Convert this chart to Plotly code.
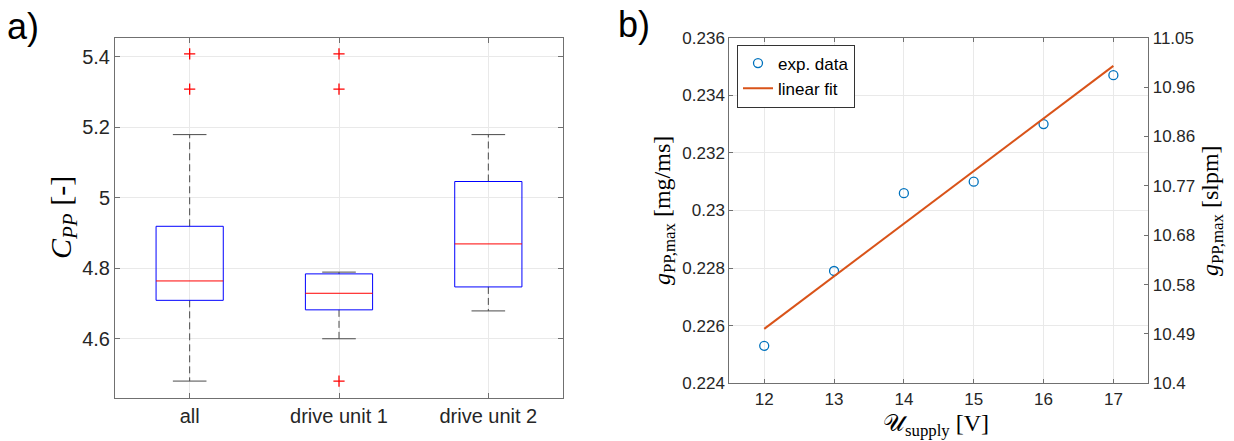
import numpy as np
import plotly.graph_objects as go

# ---------------- data: panel a) box plot statistics ----------------
groups = ["all", "drive unit 1", "drive unit 2"]
q1 = [4.709, 4.682, 4.747]
median = [4.764, 4.729, 4.869]
q3 = [4.919, 4.784, 5.046]
whisker_low = [4.480, 4.600, 4.679]
whisker_high = [5.179, 4.789, 5.179]
outlier_group = [0, 0, 1, 1, 1]
outlier_value = [5.408, 5.308, 5.408, 5.308, 4.480]
cpp_ticks = [4.6, 4.8, 5.0, 5.2, 5.4]

# ---------------- data: panel b) flow vs supply voltage ----------------
voltage = [12, 13, 14, 15, 16, 17]
flow_mg_ms = [0.2253, 0.2279, 0.2306, 0.2310, 0.2330, 0.2347]
fit_voltage = [12, 17]
fit_flow = [0.22589, 0.23502]
slpm_ticklabels = ["10.4", "10.49", "10.58", "10.68", "10.77", "10.86", "10.96", "11.05"]
slpm_range = [10.4, 11.05]

# ---------------- style ----------------
W, H = 1234, 441
BOX_HALF = 0.225
CAP_HALF = 0.1125
AX_COLOR = "#707070"
GRID = "#e9e9e9"
TICK_COLOR = "#262626"
SANS = "Liberation Sans, Arial, sans-serif"
SERIF = "Liberation Serif, Times New Roman, serif"

fig = go.Figure()

# box outlines
bx, by, mx, my, wx, wy, cx, cy = [], [], [], [], [], [], [], []
for i in range(len(groups)):
    xc = i + 1
    bx += [xc - BOX_HALF, xc + BOX_HALF, xc + BOX_HALF, xc - BOX_HALF, xc - BOX_HALF, None]
    by += [q1[i], q1[i], q3[i], q3[i], q1[i], None]
    mx += [xc - BOX_HALF, xc + BOX_HALF, None]
    my += [median[i], median[i], None]
    wx += [xc, xc, None, xc, xc, None]
    wy += [q3[i], whisker_high[i], None, q1[i], whisker_low[i], None]
    cx += [xc - CAP_HALF, xc + CAP_HALF, None, xc - CAP_HALF, xc + CAP_HALF, None]
    cy += [whisker_high[i], whisker_high[i], None, whisker_low[i], whisker_low[i], None]

fig.add_trace(go.Scatter(x=wx, y=wy, mode="lines", line=dict(color="#4a4a4a", width=1, dash="7px,4px"),
                         xaxis="x", yaxis="y", showlegend=False, hoverinfo="skip"))
fig.add_trace(go.Scatter(x=cx, y=cy, mode="lines", line=dict(color="#4a4a4a", width=1),
                         xaxis="x", yaxis="y", showlegend=False, hoverinfo="skip"))
fig.add_trace(go.Scatter(x=bx, y=by, mode="lines", line=dict(color="#0000ff", width=1),
                         xaxis="x", yaxis="y", showlegend=False, hoverinfo="skip"))
fig.add_trace(go.Scatter(x=mx, y=my, mode="lines", line=dict(color="#ff0000", width=1),
                         xaxis="x", yaxis="y", showlegend=False, hoverinfo="skip"))
fig.add_trace(go.Scatter(x=[g + 1 for g in outlier_group], y=outlier_value, mode="markers",
                         marker=dict(symbol="cross-thin", size=8, line=dict(color="#ff0000", width=1.3)),
                         xaxis="x", yaxis="y", showlegend=False, hoverinfo="skip"))

# panel b)
fig.add_trace(go.Scatter(x=voltage, y=flow_mg_ms, mode="markers", name="exp. data",
                         marker=dict(symbol="circle-open", size=9, color="#0072BD", line=dict(width=1.3)),
                         xaxis="x2", yaxis="y2"))
fig.add_trace(go.Scatter(x=fit_voltage, y=fit_flow, mode="lines", name="linear fit",
                         line=dict(color="#D95319", width=2), xaxis="x2", yaxis="y2"))
# invisible trace to activate the right axis
fig.add_trace(go.Scatter(x=[fit_voltage[0]], y=[slpm_range[0]], mode="markers", marker=dict(opacity=0),
                         xaxis="x2", yaxis="y3", showlegend=False, hoverinfo="skip"))

common = dict(showline=True, linecolor=AX_COLOR, linewidth=1, ticks="inside", tickcolor=AX_COLOR,
              showgrid=True, gridcolor=GRID, gridwidth=1, zeroline=False, automargin=False)

fig.update_layout(
    width=W, height=H, margin=dict(l=0, r=0, t=0, b=0, pad=0, autoexpand=False),
    paper_bgcolor="white", plot_bgcolor="white",
    font=dict(family=SANS, color=TICK_COLOR),
    xaxis=dict(domain=[115 / W, 563 / W], range=[0.5, 3.5], tickvals=[1, 2, 3], ticktext=groups,
               mirror="ticks", ticklen=5, tickfont=dict(size=20), anchor="y", **common),
    yaxis=dict(domain=[1 - 398 / H, 1 - 38 / H], range=[4.432, 5.453], tickvals=cpp_ticks,
               mirror="ticks", ticklen=5, tickfont=dict(size=20), anchor="x", **common),
    xaxis2=dict(domain=[729.3 / W, 1148.3 / W], range=[11.5, 17.5], dtick=1, tick0=12,
                mirror="ticks", ticklen=4, tickfont=dict(size=17), anchor="y2", **common),
    yaxis2=dict(domain=[1 - 383.3 / H, 1 - 37.7 / H], range=[0.224, 0.236], dtick=0.002, tick0=0.224,
                mirror=True, ticklen=4, tickfont=dict(size=17), anchor="x2", **common),
    yaxis3=dict(overlaying="y2", side="right", anchor="x2", range=slpm_range,
                tickvals=list(np.linspace(slpm_range[0], slpm_range[1], len(slpm_ticklabels))),
                ticktext=slpm_ticklabels, showline=True, linecolor=AX_COLOR, ticks="inside",
                tickcolor=AX_COLOR, ticklen=4, showgrid=False, zeroline=False, automargin=False,
                tickfont=dict(size=17)),
    legend=dict(x=737 / W, y=1 - 44.5 / H, xanchor="left", yanchor="top", bgcolor="white",
                bordercolor="#333333", borderwidth=1, font=dict(size=17, color="#000000"),
                tracegroupgap=0),
    showlegend=True,
)

annotations = [
    dict(text="a)", x=23 / W, y=1 - 26 / H, font=dict(size=36, family=SANS, color="#000000")),
    dict(text="b)", x=634 / W, y=1 - 25 / H, font=dict(size=36, family=SANS, color="#000000")),
    dict(text="<i>C</i><sub><i>PP</i></sub> [-]", x=63 / W, y=1 - 218 / H, textangle=-90,
         font=dict(size=30, family=SERIF, color="#000000")),
    dict(text="<i>g</i><sub>PP,max</sub> [mg/ms]", x=664 / W, y=1 - 211 / H, textangle=-90,
         font=dict(size=24, family=SERIF, color="#000000")),
    dict(text="<i>g</i><sub>PP,max</sub> [slpm]", x=1212 / W, y=1 - 211 / H, textangle=-90,
         font=dict(size=24, family=SERIF, color="#000000")),
    dict(text="𝒰<sub>supply</sub> [V]", x=936 / W, y=1 - 425 / H,
         font=dict(size=24, family=SERIF, color="#000000")),
]
for a in annotations:
    a.update(xref="paper", yref="paper", xanchor="center", yanchor="middle", showarrow=False)
fig.update_layout(annotations=annotations)

fig.write_html("out.html")
